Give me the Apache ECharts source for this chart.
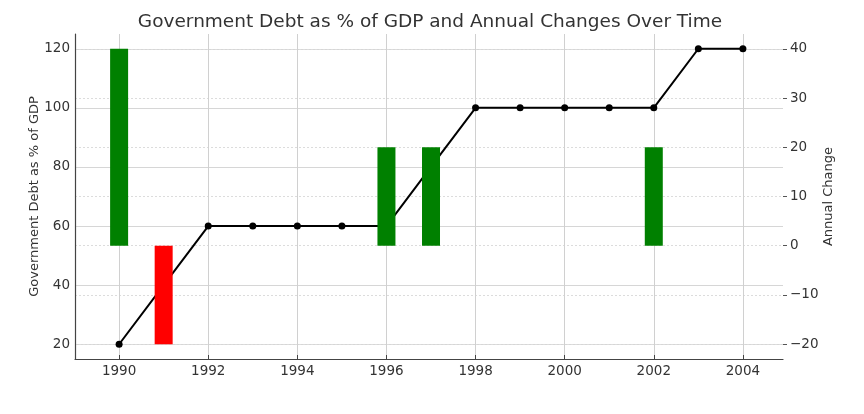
<!DOCTYPE html>
<html>
<head>
<meta charset="utf-8">
<script src="https://cdn.jsdelivr.net/npm/echarts@6/dist/echarts.min.js"></script>
<style>
  html, body { margin: 0; padding: 0; background: #fff; }
  #chart { width: 864px; height: 414px; }
</style>
</head>
<body>
<div id="chart"></div>
<script>
const years = [1990, 1991, 1992, 1993, 1994, 1995, 1996, 1997, 1998, 1999, 2000, 2001, 2002, 2003, 2004];
const debt = [20, 40, 60, 60, 60, 60, 60, 80, 100, 100, 100, 100, 100, 120, 120];
const changeYears = [1990, 1991, 1996, 1997, 2002];
const changes = [40, -20, 20, 20, 20];
const xTicks = [1990, 1992, 1994, 1996, 1998, 2000, 2002, 2004];
const leftTicks = [20, 40, 60, 80, 100, 120];
const rightTicks = [-20, -10, 0, 10, 20, 30, 40];

const font = 'DejaVu Sans';
const plain = v => String(v).replace('-', '\u2212');
const chart = echarts.init(document.getElementById('chart'), null, { renderer: 'canvas' });

chart.setOption({
  animation: false,
  textStyle: { fontFamily: font },
  title: {
    text: 'Government Debt as % of GDP and Annual Changes Over Time',
    left: 425,
    textAlign: 'center',
    top: 8,
    textStyle: { fontFamily: font, fontSize: 18.5, fontWeight: 'normal', color: '#333' }
  },
  grid: { left: 75, right: 81, top: 34, bottom: 55 },
  xAxis: {
    type: 'value',
    min: 1989.01,
    max: 2004.9,
    axisLine: { onZero: false, lineStyle: { color: '#444', width: 1.2 } },
    axisTick: { inside: true, length: 4, customValues: xTicks, lineStyle: { color: '#444' } },
    axisLabel: { customValues: xTicks, formatter: plain, fontSize: 13.5, color: '#333', margin: 5 },
    splitLine: { show: true, lineStyle: { color: '#d0d0d0', width: 1 } }
  },
  yAxis: [
    {
      type: 'value',
      min: 15,
      max: 125,
      name: 'Government Debt as % of GDP',
      nameLocation: 'middle',
      nameMoveOverlap: false,
      nameGap: 34,
      nameTextStyle: { fontSize: 13, color: '#333' },
      axisLine: { show: true, onZero: false, lineStyle: { color: '#444', width: 1.2 } },
      axisTick: { show: false, customValues: leftTicks },
      axisLabel: { customValues: leftTicks, formatter: plain, fontSize: 13.5, color: '#333', margin: 5 },
      splitLine: { show: true, lineStyle: { color: '#d6d6d6', width: 1 } }
    },
    {
      type: 'value',
      min: -23,
      max: 43,
      position: 'right',
      name: 'Annual Change',
      nameLocation: 'middle',
      nameMoveOverlap: false,
      nameGap: 39,
      nameTextStyle: { fontSize: 13, color: '#333' },
      axisLine: { show: false, onZero: false },
      axisTick: { show: true, length: 4, customValues: rightTicks, lineStyle: { color: '#555' } },
      axisLabel: { customValues: rightTicks, formatter: plain, fontSize: 13.5, color: '#333', margin: 7 },
      splitLine: { show: true, lineStyle: { color: '#dcdcdc', width: 1, type: [2, 2] } }
    }
  ],
  series: [
    {
      type: 'line',
      yAxisIndex: 0,
      z: 2,
      data: years.map((y, i) => [y, debt[i]]),
      symbol: 'circle',
      symbolSize: 7,
      itemStyle: { color: '#000' },
      lineStyle: { color: '#000', width: 2 }
    },
    {
      type: 'bar',
      yAxisIndex: 1,
      z: 3,
      barWidth: 18,
      data: changeYears.map((y, i) => ({
        value: [y, changes[i]],
        itemStyle: { color: changes[i] >= 0 ? '#008000' : '#ff0000' }
      }))
    }
  ]
});
</script>
</body>
</html>
